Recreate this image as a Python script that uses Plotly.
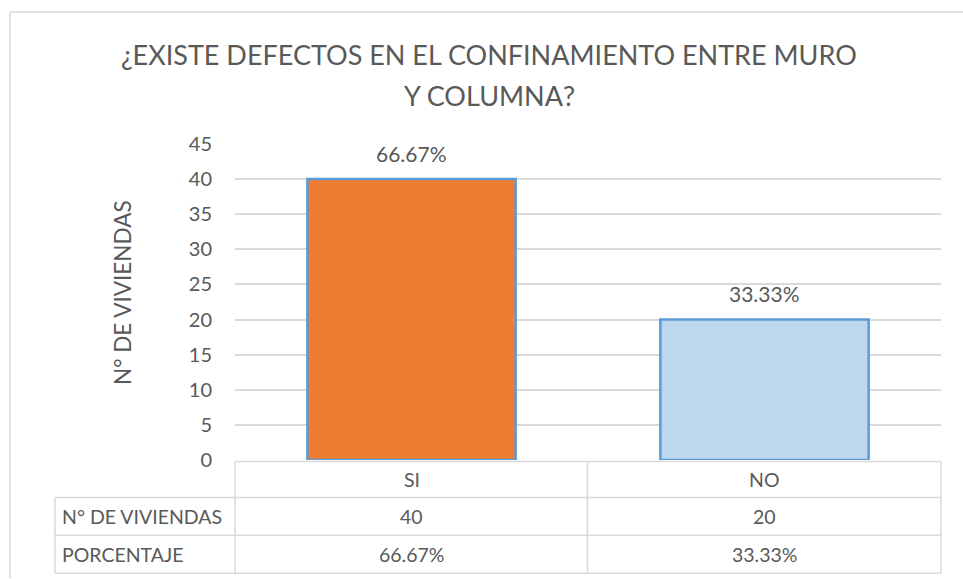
import plotly.graph_objects as go

categories = ["SI", "NO"]
viviendas = [40, 20]
porcentaje = ["66.67%", "33.33%"]
row_labels = ["N° DE VIVIENDAS", "PORCENTAJE"]
title_lines = ["¿EXISTE DEFECTOS EN EL CONFINAMIENTO ENTRE MURO", "Y COLUMNA?"]
y_title = "N° DE VIVIENDAS"
bar_colors = ["#ED7D31", "#BDD7EE"]

W, H = 963, 579
L, R, T, B = 235, 941, 143.5, 460.5
FONT = "Lato"
TXT = "#595959"
GRID = "#D9D9D9"


def px(x):
    return (x - L) / (R - L)


def py(y):
    return (B - y) / (B - T)


fig = go.Figure()
fig.add_trace(go.Bar(
    x=categories, y=viviendas,
    marker=dict(color=bar_colors, line=dict(color="#5B9BD5", width=2.5)),
    hoverinfo="skip",
))

shapes = []
# outer frame (left and top)
shapes.append(dict(type="line", xref="paper", yref="paper",
                   x0=px(10), x1=px(963), y0=py(11), y1=py(11),
                   line=dict(color=GRID, width=1.5)))
shapes.append(dict(type="line", xref="paper", yref="paper",
                   x0=px(10), x1=px(10), y0=py(11), y1=py(579),
                   line=dict(color=GRID, width=1.5)))
# data table lines
row_y = [462, 498, 536, 574]
shapes.append(dict(type="line", xref="paper", yref="paper",
                   x0=px(235), x1=px(941), y0=py(row_y[0]), y1=py(row_y[0]),
                   line=dict(color=GRID, width=1.5)))
for yy in row_y[1:]:
    shapes.append(dict(type="line", xref="paper", yref="paper",
                       x0=px(55), x1=px(941), y0=py(yy), y1=py(yy),
                       line=dict(color=GRID, width=1.5)))
shapes.append(dict(type="line", xref="paper", yref="paper",
                   x0=px(55), x1=px(55), y0=py(row_y[1]), y1=py(row_y[3]),
                   line=dict(color=GRID, width=1.5)))
for xx in [235, 587.5, 941]:
    shapes.append(dict(type="line", xref="paper", yref="paper",
                       x0=px(xx), x1=px(xx), y0=py(row_y[0]), y1=py(row_y[3]),
                       line=dict(color=GRID, width=1.5)))

annotations = []
# title (two lines with Excel-like line spacing)
for yy, line in zip([54, 95], title_lines):
    annotations.append(dict(x=px(489), y=py(yy), xref="paper", yref="paper",
                            text=line, showarrow=False, xanchor="center", yanchor="middle",
                            font=dict(family=FONT, size=27, color=TXT)))
# data labels above bars
for c, v, p in zip(categories, viviendas, porcentaje):
    annotations.append(dict(x=c, y=v, xref="x", yref="y", text=p, showarrow=False,
                            yanchor="middle", yshift=26,
                            font=dict(family=FONT, size=21, color=TXT)))
# table cells
row_centers = [(row_y[i] + row_y[i + 1]) / 2 for i in range(3)]
for i, c in enumerate(categories):
    for r, val in enumerate([c, str(viviendas[i]), porcentaje[i]]):
        annotations.append(dict(x=c, y=py(row_centers[r]), xref="x", yref="paper",
                                text=val, showarrow=False, yanchor="middle",
                                font=dict(family=FONT, size=19.5, color=TXT)))
for r, lab in enumerate(row_labels):
    annotations.append(dict(x=px(60), y=py(row_centers[r + 1]), xref="paper", yref="paper",
                            text=lab, showarrow=False, xanchor="left", yanchor="middle",
                            font=dict(family=FONT, size=19.5, color=TXT)))
# axis title
annotations.append(dict(x=px(122), y=py(293), xref="paper", yref="paper",
                        text=y_title, textangle=-90, showarrow=False,
                        xanchor="center", yanchor="middle",
                        font=dict(family=FONT, size=22.5, color=TXT)))

fig.update_layout(
    width=W, height=H,
    margin=dict(l=L, r=W - R, t=T, b=H - B, autoexpand=False),
    paper_bgcolor="white", plot_bgcolor="white",
    showlegend=False,
    bargap=0.41,
    xaxis=dict(showticklabels=False, showgrid=False, zeroline=False,
               showline=False, ticks=""),
    yaxis=dict(range=[0, 45], dtick=5, tick0=0, showgrid=True, gridcolor=GRID,
               gridwidth=1.5, zeroline=False, showline=False, ticks="",
               ticklabelstandoff=22,
               tickfont=dict(family=FONT, size=20, color=TXT)),
    shapes=shapes,
    annotations=annotations,
)

fig.write_html("out.html", config={"displayModeBar": False})

# remove the browser's default body margin so the figure sits at (0, 0)
with open("out.html", "r", encoding="utf-8") as f:
    html = f.read()
html = html.replace("<head>", "<head><style>html,body{margin:0;padding:0;overflow:hidden;}</style>", 1)
with open("out.html", "w", encoding="utf-8") as f:
    f.write(html)
